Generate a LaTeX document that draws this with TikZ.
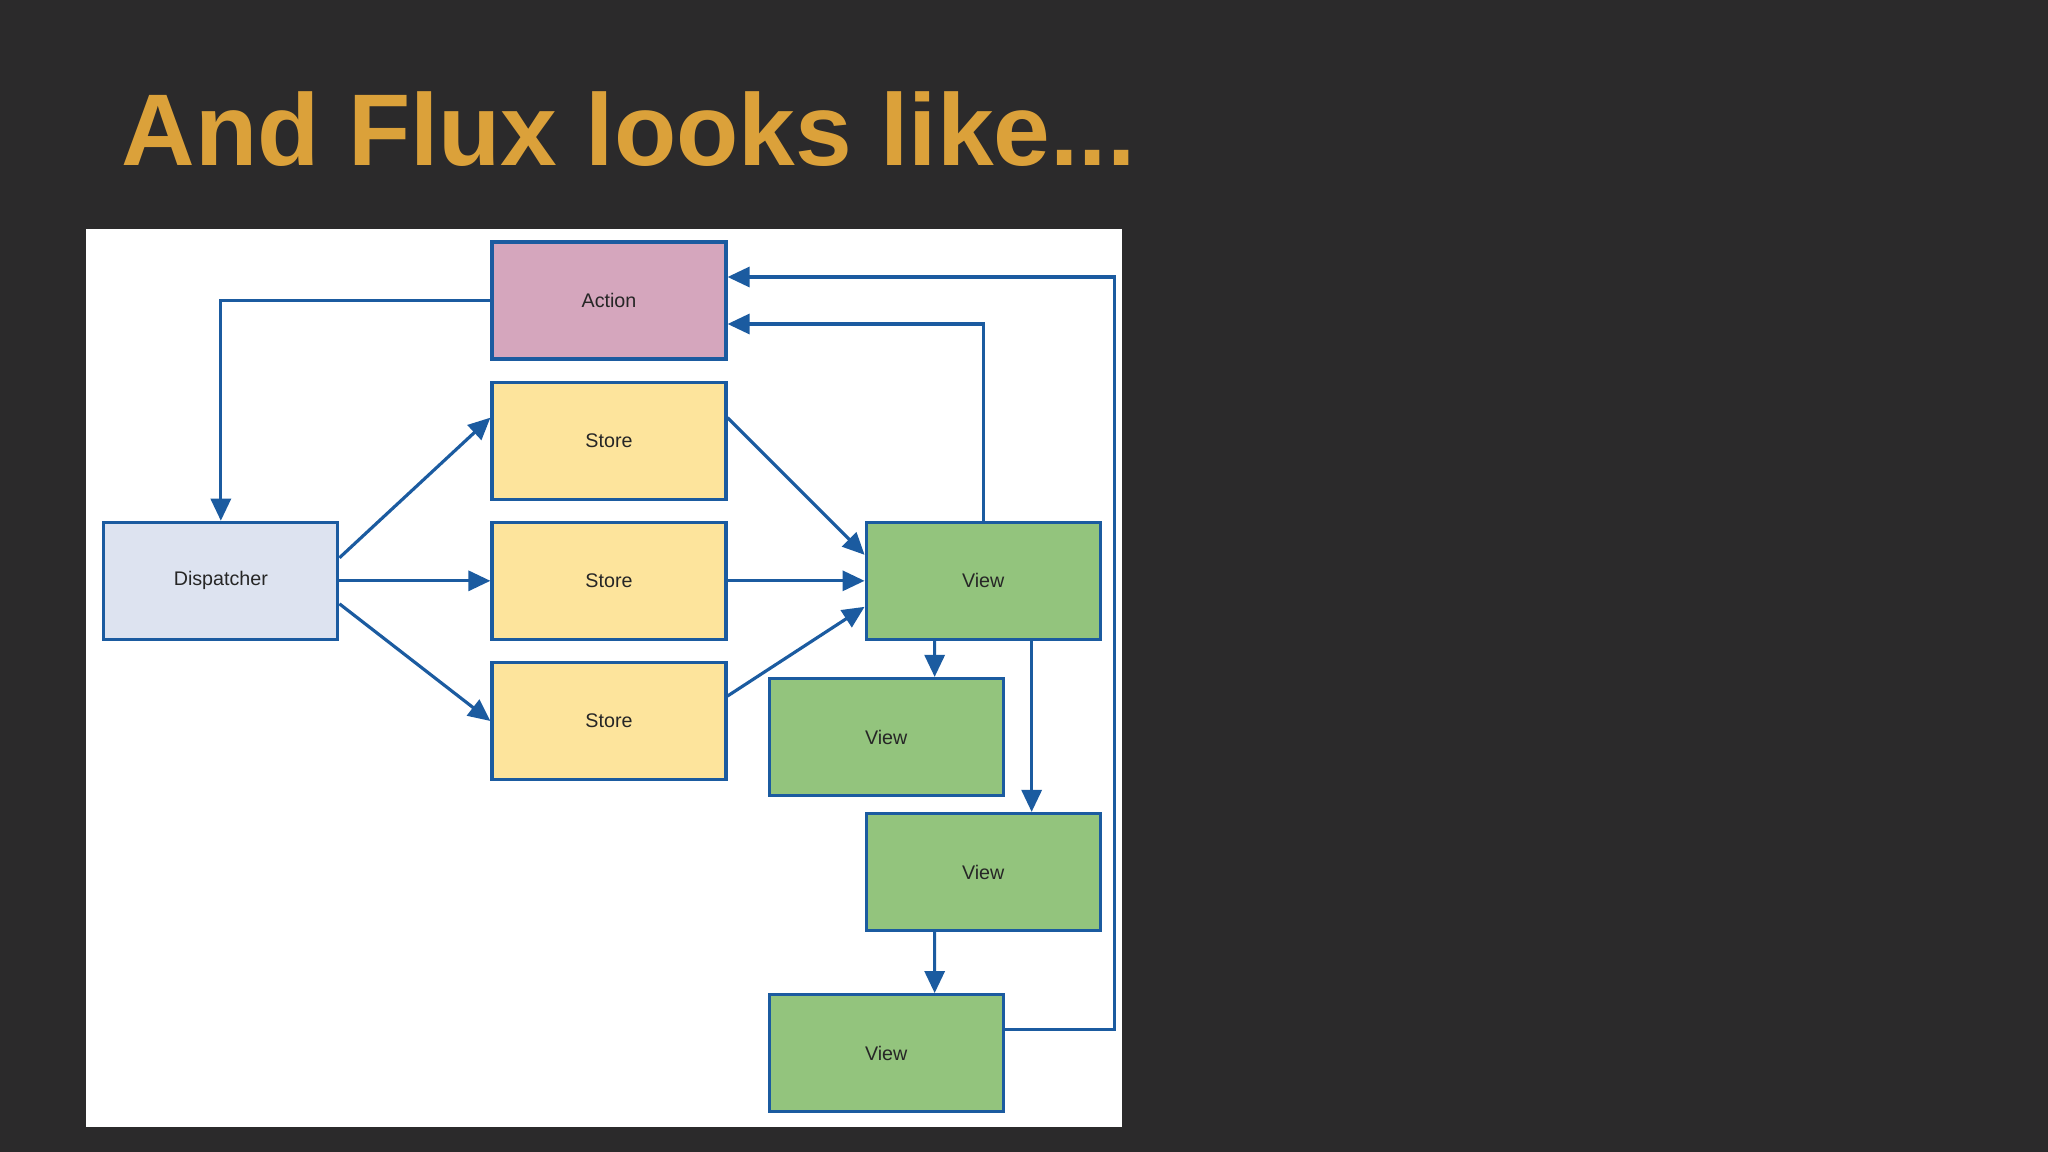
\documentclass[tikz,border=0pt]{standalone}
\usepackage{fontspec}
\setmainfont{Liberation Sans}
\usetikzlibrary{arrows.meta,positioning,calc}
\definecolor{slidebg}{HTML}{2B2A2B}
\definecolor{titleor}{HTML}{DBA13A}
\definecolor{edgeblue}{HTML}{1B5BA0}
\definecolor{actfill}{HTML}{D5A6BD}
\definecolor{storefill}{HTML}{FDE49C}
\definecolor{dispfill}{HTML}{DDE3F0}
\definecolor{viewfill}{HTML}{93C47D}

\begin{document}
\begin{tikzpicture}[
  blk/.style={draw=edgeblue, line width=0.9pt, minimum width=2.34cm, minimum height=1.17cm,
    inner sep=0pt, text=black!85, font=\fontsize{5.6}{6}\selectfont},
  flow/.style={edgeblue, line width=0.9pt, -{Triangle[length=0.22cm,width=0.2cm]}}
]
  \fill[slidebg] (0,0) rectangle (20.48,-11.52);
  \useasboundingbox (0,0) rectangle (20.48,-11.52);
  \fill[white] (0.86,-2.29) rectangle (11.22,-11.27);
  \node[anchor=base west, inner sep=0pt, text=titleor, font=\fontsize{29}{34}\selectfont\bfseries] (title) at (1.21,-1.66) {And Flux looks like...};

  \node[blk, fill=actfill] (act) at (6.09,-3.005) {Action};
  \node[blk, fill=storefill, below=0.20cm of act] (st1) {Store};
  \node[blk, fill=storefill, below=0.20cm of st1] (st2) {Store};
  \node[blk, fill=storefill, below=0.20cm of st2] (st3) {Store};
  \node[blk, fill=dispfill, left=1.51cm of st2] (disp) {Dispatcher};
  \node[blk, fill=viewfill, right=1.37cm of st2] (v1) {View};
  \node[blk, fill=viewfill, below=0.36cm of v1, xshift=-0.97cm] (v2) {View};
  \node[blk, fill=viewfill, below=1.71cm of v1] (v3) {View};
  \node[blk, fill=viewfill, below=0.61cm of v3, xshift=-0.97cm] (v4) {View};

  \draw[flow] (act.west) -| (disp.north);
  \draw[flow] ([yshift=0.23cm]disp.east) -- ([yshift=0.23cm]st1.west);
  \draw[flow] (disp.east) -- (st2.west);
  \draw[flow] ([yshift=-0.23cm]disp.east) -- (st3.west);
  \draw[flow] ([yshift=0.23cm]st1.east) -- ([yshift=0.26cm]v1.west);
  \draw[flow] (st2.east) -- (v1.west);
  \draw[flow] ([yshift=0.25cm]st3.east) -- ([yshift=-0.26cm]v1.west);
  \draw[flow] (v1.north) |- ([yshift=-0.235cm]act.east);
  \draw[flow] ([yshift=0.24cm]v4.east) -- ++(1.1,0) |- ([yshift=0.235cm]act.east);
  \draw[flow] ([xshift=-0.485cm]v1.south) -- ([xshift=0.485cm]v2.north);
  \draw[flow] ([xshift=0.485cm]v1.south) -- ([xshift=0.485cm]v3.north);
  \draw[flow] ([xshift=-0.485cm]v3.south) -- ([xshift=0.485cm]v4.north);
\end{tikzpicture}
\end{document}
